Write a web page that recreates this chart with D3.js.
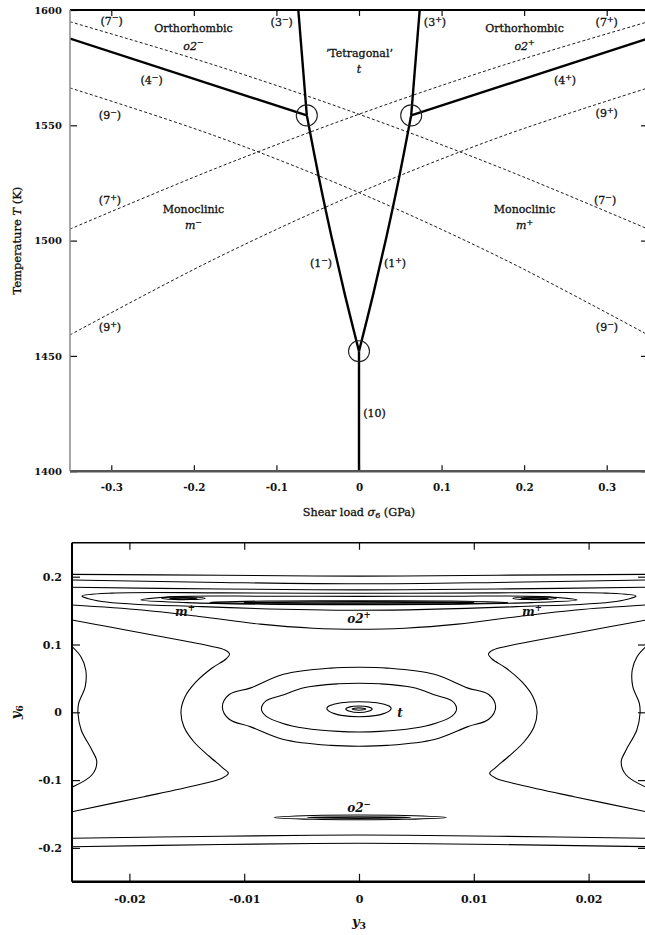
<!DOCTYPE html>
<html><head><meta charset="utf-8">
<script src="https://cdn.jsdelivr.net/npm/d3@7"></script>
<style>body{margin:0;background:#fff}svg{display:block}</style>
</head><body>
<svg id="c" width="645" height="935"></svg>
<script>
// ---------- tick values ----------
const sigmaTicks = [-0.3,-0.2,-0.1,0,0.1,0.2,0.3];
const tempTicks = [1400,1450,1500,1550,1600];
const y3Ticks = [-0.02,-0.01,0,0.01,0.02];
const y6Ticks = [-0.2,-0.1,0,0.1,0.2];

// ---------- top panel: phase boundaries [sigma6 (GPa), T (K)] ----------
const b10 = [[0,1400],[0,1452]];
const b1m = [[0,1452],[-0.0174,1477],[-0.0335,1502],[-0.0484,1527],[-0.0632,1554.3]];
const b1p = [[0,1452],[0.0174,1477],[0.0335,1502],[0.0484,1527],[0.0632,1554.3]];
const b3m = [[-0.0632,1554.3],[-0.0735,1600]];
const b3p = [[0.0632,1554.3],[0.0735,1600]];
const b4m = [[-0.35,1587.6],[-0.0632,1554.3]];
const b4p = [[0.0632,1554.3],[0.35,1587.6]];
const d7m = [[-0.35,1594.9],[-0.175,1576.1],[0,1554.8],[0.175,1531.1],[0.35,1505.0]];
const d7p = [[-0.35,1505.0],[-0.175,1531.1],[0,1554.8],[0.175,1576.1],[0.35,1594.9]];
const d9m = [[-0.35,1566.2],[-0.175,1545.5],[0,1520.8],[0.175,1492.0],[0.35,1459.1]];
const d9p = [[-0.35,1459.1],[-0.175,1492.0],[0,1520.8],[0.175,1545.5],[0.35,1566.2]];
const nodes = [[-0.0632,1554.3],[0.0632,1554.3],[0,1452]];

// labels: parts, sigma, T (centre)
const topLabels = [
 [[["(7",""],["−","sup"],[")",""]], -0.2995, 1595.4],
 [[["(3",""],["−","sup"],[")",""]], -0.0936, 1594.9],
 [[["(3",""],["+","sup"],[")",""]], 0.0920, 1594.9],
 [[["(7",""],["+","sup"],[")",""]], 0.3000, 1594.9],
 [[["Orthorhombic",""]], -0.2005, 1592.1],
 [[["o2","i"],["−","sup"]], -0.2005, 1584.6],
 [[["Orthorhombic",""]], 0.2005, 1592.1],
 [[["o2","i"],["+","sup"]], 0.2005, 1584.6],
 [[["’Tetragonal’",""]], 0.0005, 1581.2],
 [[["t","i"]], 0.0, 1574.3],
 [[["(4",""],["−","sup"],[")",""]], -0.2511, 1569.6],
 [[["(4",""],["+","sup"],[")",""]], 0.2495, 1569.6],
 [[["(9",""],["−","sup"],[")",""]], -0.3016, 1554.5],
 [[["(9",""],["+","sup"],[")",""]], 0.3000, 1555.2],
 [[["(7",""],["+","sup"],[")",""]], -0.3016, 1517.6],
 [[["(7",""],["−","sup"],[")",""]], 0.2980, 1517.6],
 [[["Monoclinic",""]], -0.2005, 1513.7],
 [[["m","i"],["−","sup"]], -0.2005, 1506.6],
 [[["Monoclinic",""]], 0.2005, 1513.7],
 [[["m","i"],["+","sup"]], 0.2005, 1506.6],
 [[["(1",""],["−","sup"],[")",""]], -0.0460, 1490.2],
 [[["(1",""],["+","sup"],[")",""]], 0.0436, 1490.2],
 [[["(9",""],["+","sup"],[")",""]], -0.3016, 1462.5],
 [[["(9",""],["−","sup"],[")",""]], 0.3003, 1462.5],
 [[["(10)",""]], 0.0188, 1425.1]
];

// ---------- bottom panel: contour lines [y3, y6] ----------
const cL1 = [[-0.025,0.2035],[-0.012,0.2022],[0,0.2008],[0.012,0.2022],[0.025,0.2035]];
const cL2 = [[-0.025,0.1951],[-0.012,0.1915],[0,0.1895],[0.012,0.1915],[0.025,0.1951]];
const cC  = [[-0.025,0.1844],[-0.012,0.1818],[0,0.1805],[0.012,0.1818],[0.025,0.1844]];
const cD  = [[-0.02413,0.1715],[-0.0215,0.1758],[-0.012,0.1762],[0,0.1755],[0.012,0.1762],[0.0215,0.1758],[0.02413,0.1715],[0.0224,0.1635],[0.0137,0.1558],[0,0.1505],[-0.0137,0.1558],[-0.0224,0.1635]];
const cM  = [[-0.019,0.1656],[-0.016,0.1708],[-0.008,0.1712],[0,0.171],[0.008,0.1712],[0.016,0.1708],[0.019,0.1656],[0.015,0.1618],[0.007,0.1592],[0,0.1588],[-0.007,0.1592],[-0.015,0.1618]];
const cMpL1 = [[-0.0172,0.1683],[-0.0160,0.1703],[-0.0146,0.1700],[-0.0134,0.1680],[-0.0147,0.1663],[-0.0161,0.1665]];
const cMpL2 = [[-0.0165,0.1683],[-0.0153,0.1693],[-0.0141,0.1682],[-0.0153,0.1673]];
const cMpR1 = [[0.0172,0.1683],[0.0160,0.1703],[0.0146,0.1700],[0.0134,0.1680],[0.0147,0.1663],[0.0161,0.1665]];
const cMpR2 = [[0.0165,0.1683],[0.0153,0.1693],[0.0141,0.1682],[0.0153,0.1673]];
const cO2p1 = [[-0.0130,0.1620],[-0.008,0.1642],[0,0.1645],[0.008,0.1642],[0.0130,0.1620],[0.008,0.1602],[0,0.1598],[-0.008,0.1602]];
const cO2p2 = [[-0.010,0.1621],[0,0.1632],[0.010,0.1621],[0,0.1610]];
const cE  = [[-0.025,0.1583],[-0.0189,0.1509],[-0.01375,0.141],[-0.0086,0.130],[-0.004,0.124],[0,0.1225],[0.004,0.124],[0.0086,0.130],[0.01375,0.141],[0.0189,0.1509],[0.025,0.1583]];
const cHL = [[-0.0250,0.1361],[-0.02169,0.1258],[-0.01821,0.1147],[-0.01516,0.1052],[-0.01298,0.0978],[-0.01167,0.0919],[-0.01128,0.0860],[-0.01159,0.0786],[-0.01280,0.0653],[-0.01420,0.0447],[-0.01516,0.0226],[-0.01551,0.0004],[-0.01524,-0.0217],[-0.01437,-0.0438],[-0.01307,-0.0645],[-0.01185,-0.0822],[-0.01138,-0.0900],[-0.01193,-0.0973],[-0.01407,-0.1072],[-0.01873,-0.1245],[-0.0250,-0.1466]];
const cHR = [[0.0250,0.1361],[0.02169,0.1258],[0.01821,0.1147],[0.01516,0.1052],[0.01298,0.0978],[0.01167,0.0919],[0.01128,0.0860],[0.01159,0.0786],[0.01280,0.0653],[0.01420,0.0447],[0.01516,0.0226],[0.01551,0.0004],[0.01524,-0.0217],[0.01437,-0.0438],[0.01307,-0.0645],[0.01185,-0.0822],[0.01138,-0.0900],[0.01193,-0.0973],[0.01407,-0.1072],[0.01873,-0.1245],[0.0250,-0.1466]];
const cWL = [[-0.0250,0.0970],[-0.02422,0.0820],[-0.0238,0.0624],[-0.02385,0.0378],[-0.02442,0.0133],[-0.02448,-0.0015],[-0.0242,-0.0261],[-0.02327,-0.0556],[-0.02284,-0.0729],[-0.02327,-0.0925],[-0.0250,-0.1105]];
const cWR = [[0.0250,0.0970],[0.02422,0.0820],[0.0238,0.0624],[0.02385,0.0378],[0.02442,0.0133],[0.02448,-0.0015],[0.0242,-0.0261],[0.02327,-0.0556],[0.02284,-0.0729],[0.02327,-0.0925],[0.0250,-0.1105]];
const cT1 = [[-0.0119,0.0080],[-0.0113,0.0262],[-0.00943,0.0360],[-0.00657,0.0560],[-0.00245,0.0652],[0,0.0664],[0.00245,0.0652],[0.00657,0.0560],[0.00943,0.0360],[0.0113,0.0262],[0.0119,0.0080],[0.0113,-0.0102],[0.00943,-0.0215],[0.00657,-0.0400],[0.00245,-0.0488],[0,-0.0500],[-0.00245,-0.0488],[-0.00657,-0.0400],[-0.00943,-0.0215],[-0.0113,-0.0102]];
const cT2 = [[-0.0085,0.0050],[-0.0081,0.0168],[-0.0067,0.0252],[-0.0047,0.0365],[-0.0018,0.0420],[0,0.0428],[0.0018,0.0420],[0.0047,0.0365],[0.0067,0.0252],[0.0081,0.0168],[0.0085,0.0050],[0.0081,-0.0056],[0.0067,-0.0160],[0.0047,-0.0235],[0.0018,-0.0282],[0,-0.0290],[-0.0018,-0.0282],[-0.0047,-0.0235],[-0.0067,-0.0160],[-0.0081,-0.0056]];
const cT3 = [[-0.0028,0.0059],[-0.00266,0.0089],[-0.0022,0.0118],[-0.00155,0.0140],[0,0.0156],[0.00155,0.0140],[0.0022,0.0118],[0.00266,0.0089],[0.0028,0.0059],[0.00266,0.0020],[0.0022,-0.0016],[0.00155,-0.0045],[0,-0.0065],[-0.00155,-0.0045],[-0.0022,-0.0016],[-0.00266,0.0020]];
const cT4 = [[-0.00115,0.0049],[-0.0008,0.0080],[0,0.0093],[0.0008,0.0080],[0.00115,0.0049],[0.0008,0.0014],[0,-0.0004],[-0.0008,0.0014]];
const cT5 = [[-0.0006,0.0048],[0,0.0066],[0.0006,0.0048],[0,0.0031]];
const cO2m1 = [[-0.0074,-0.1550],[-0.004,-0.1522],[0,-0.1515],[0.004,-0.1522],[0.0076,-0.1550],[0.004,-0.1578],[0,-0.1585],[-0.004,-0.1578]];
const cO2m2 = [[-0.0045,-0.1553],[0,-0.1542],[0.0045,-0.1553],[0,-0.1564]];
const cB1 = [[-0.025,-0.1858],[-0.012,-0.1828],[0,-0.1810],[0.012,-0.1828],[0.025,-0.1858]];
const cB2 = [[-0.025,-0.1982],[-0.012,-0.1950],[0,-0.1932],[0.012,-0.1950],[0.025,-0.1982]];
const openContours = [cL1,cL2,cC,cE,cHL,cHR,cWL,cWR,cB1,cB2];
const closedContours = [cD,cM,cMpL1,cMpL2,cMpR1,cMpR2,cO2p1,cO2p2,cT1,cT2,cT3,cT4,cT5,cO2m1,cO2m2];

const botLabels = [
 [[["m","i"],["+","sup"]], -0.01516, 0.1485],
 [[["m","i"],["+","sup"]], 0.01507, 0.1485],
 [[["o2","i"],["+","sup"]], 0.0, 0.1386],
 [[["t","i"]], 0.00357, -0.0006],
 [[["o2","i"],["−","sup"]], 0.0, -0.1400]
];

// ---------- drawing ----------
const svg = d3.select("#c");
const FONT = "DejaVu Serif";

function rich(parent, x, y, parts, size, opts={}) {
  const t = parent.append("text").attr("x",x).attr("y",y)
    .attr("text-anchor", opts.anchor || "middle")
    .attr("font-family", FONT).attr("font-size", size).attr("fill","#111");
  if (opts.weight) t.attr("font-weight", opts.weight);
  if (opts.transform) t.attr("transform", opts.transform);
  if (opts.thick) t.attr("stroke","#111").attr("stroke-width",opts.thick);
  let shift = 0;
  parts.forEach(([str, st]) => {
    const tok = st.split(" ");
    const ts = t.append("tspan").text(str);
    let target = 0;
    if (tok.includes("sup")) { target = -0.38*size; ts.attr("font-size", size*0.72); }
    if (tok.includes("sub")) { target = 0.22*size; ts.attr("font-size", size*0.72); }
    if (tok.includes("i")) ts.attr("font-style","italic");
    if (target !== shift) { ts.attr("dy", target - shift); shift = target; }
  });
  return t;
}

function styleAxis(g, labels, size) {
  g.select(".domain").remove();
  g.selectAll(".tick line").attr("stroke","#111").attr("stroke-width",1.2);
  g.selectAll(".tick text").attr("font-family",FONT).attr("font-weight","bold")
    .attr("font-size",size || 10).attr("fill","#111");
  if (!labels) g.selectAll(".tick text").remove();
}

// ===== TOP PANEL =====
const xTop = d3.scaleLinear([-0.35,0.35],[70,648]);
const yTop = d3.scaleLinear([1400,1600],[471.2,10]);
const gT = svg.append("g");
svg.append("clipPath").attr("id","clipT").append("rect")
  .attr("x",xTop(-0.35)).attr("y",yTop(1600)).attr("width",xTop(0.35)-xTop(-0.35)).attr("height",yTop(1400)-yTop(1600));
const lineT = d3.line().x(d=>xTop(d[0])).y(d=>yTop(d[1]));
const lineTc = d3.line().x(d=>xTop(d[0])).y(d=>yTop(d[1])).curve(d3.curveCatmullRom);
const plotT = gT.append("g").attr("clip-path","url(#clipT)");

[d7m,d7p,d9m,d9p].forEach(d => plotT.append("path").attr("d",lineTc(d))
  .attr("fill","none").attr("stroke","#111").attr("stroke-width",0.95).attr("stroke-dasharray","3,2.2"));
[b10,b3m,b3p,b4m,b4p].forEach(d => plotT.append("path").attr("d",lineT(d))
  .attr("fill","none").attr("stroke","#000").attr("stroke-width",2.4));
[b1m,b1p].forEach(d => plotT.append("path").attr("d",lineTc(d))
  .attr("fill","none").attr("stroke","#000").attr("stroke-width",2.4));
plotT.selectAll("circle.node").data(nodes).join("circle").attr("class","node")
  .attr("cx",d=>xTop(d[0])).attr("cy",d=>yTop(d[1])).attr("r",10.5)
  .attr("fill","none").attr("stroke","#222").attr("stroke-width",1.1);

// axes top
gT.append("g").attr("transform",`translate(0,${yTop(1400)})`)
  .call(d3.axisBottom(xTop).tickValues(sigmaTicks).tickFormat(d=>String(d)).tickSize(-6).tickPadding(12))
  .call(g=>styleAxis(g,true,10.3));
gT.append("g").attr("transform",`translate(0,${yTop(1600)})`)
  .call(d3.axisTop(xTop).tickValues(sigmaTicks).tickSize(-6))
  .call(g=>styleAxis(g,false));
gT.append("g").attr("transform",`translate(${xTop(-0.35)},0)`)
  .call(d3.axisLeft(yTop).tickValues(tempTicks).tickFormat(d=>String(d)).tickSize(-7).tickPadding(8))
  .call(g=>styleAxis(g,true,10));
gT.append("g").attr("transform",`translate(${xTop(0.35)},0)`)
  .call(d3.axisRight(yTop).tickValues(tempTicks).tickSize(-7))
  .call(g=>styleAxis(g,false));
// spines
gT.append("line").attr("x1",xTop(-0.35)).attr("x2",xTop(0.35)).attr("y1",yTop(1600)).attr("y2",yTop(1600)).attr("stroke","#000").attr("stroke-width",2);
gT.append("line").attr("x1",xTop(-0.35)).attr("x2",xTop(0.35)).attr("y1",yTop(1400)).attr("y2",yTop(1400)).attr("stroke","#555").attr("stroke-width",2.6);
gT.append("line").attr("x1",xTop(-0.35)).attr("x2",xTop(-0.35)).attr("y1",yTop(1600)).attr("y2",yTop(1400)).attr("stroke","#888").attr("stroke-width",1.5);

topLabels.forEach(([parts,s,T]) => rich(gT, xTop(s), yTop(T)+4, parts, 11, {thick:0.3}));
rich(gT, xTop(0), 516, [["Shear load ",""],["σ","i"],["6","sub"],[" (GPa)",""]], 11.2, {thick:0.3});
rich(gT, 0, 0, [["Temperature ",""],["T","i"],[" (K)",""]], 11.5, {thick:0.3, transform:`translate(21,${yTop(1500)}) rotate(-90)`});

// ===== BOTTOM PANEL =====
const xBot = d3.scaleLinear([-0.025,0.025],[72,646]);
const yBot = d3.scaleLinear([-0.25,0.25],[881.8,542.8]);
const gB = svg.append("g");
svg.append("clipPath").attr("id","clipB").append("rect")
  .attr("x",xBot(-0.025)).attr("y",yBot(0.25)).attr("width",xBot(0.025)-xBot(-0.025)).attr("height",yBot(-0.25)-yBot(0.25));
const plotB = gB.append("g").attr("clip-path","url(#clipB)");
const lineBo = d3.line().x(d=>xBot(d[0])).y(d=>yBot(d[1])).curve(d3.curveCatmullRom);
const lineBc = d3.line().x(d=>xBot(d[0])).y(d=>yBot(d[1])).curve(d3.curveCatmullRomClosed);
openContours.forEach(d => plotB.append("path").attr("d",lineBo(d))
  .attr("fill","none").attr("stroke","#000").attr("stroke-width",1.1));
closedContours.forEach(d => plotB.append("path").attr("d",lineBc(d))
  .attr("fill","none").attr("stroke","#000").attr("stroke-width",1.1));

gB.append("g").attr("transform",`translate(0,${yBot(-0.25)})`)
  .call(d3.axisBottom(xBot).tickValues(y3Ticks).tickFormat(d=>String(d)).tickSize(-8).tickPadding(13))
  .call(g=>styleAxis(g,true,11));
gB.append("g").attr("transform",`translate(0,${yBot(0.25)})`)
  .call(d3.axisTop(xBot).tickValues(y3Ticks).tickSize(-7))
  .call(g=>styleAxis(g,false));
gB.append("g").attr("transform",`translate(${xBot(-0.025)},0)`)
  .call(d3.axisLeft(yBot).tickValues(y6Ticks).tickFormat(d=>String(d)).tickSize(-8).tickPadding(10))
  .call(g=>styleAxis(g,true,11));
gB.append("g").attr("transform",`translate(${xBot(0.025)},0)`)
  .call(d3.axisRight(yBot).tickValues(y6Ticks).tickSize(-8))
  .call(g=>styleAxis(g,false));
gB.append("line").attr("x1",xBot(-0.025)).attr("x2",xBot(0.025)).attr("y1",yBot(0.25)).attr("y2",yBot(0.25)).attr("stroke","#000").attr("stroke-width",1.6);
gB.append("line").attr("x1",xBot(-0.025)).attr("x2",xBot(0.025)).attr("y1",yBot(-0.25)).attr("y2",yBot(-0.25)).attr("stroke","#000").attr("stroke-width",2.6);
gB.append("line").attr("x1",xBot(-0.025)).attr("x2",xBot(-0.025)).attr("y1",yBot(0.25)).attr("y2",yBot(-0.25)).attr("stroke","#000").attr("stroke-width",2);

botLabels.forEach(([parts,a,b]) => rich(gB, xBot(a), yBot(b)+4.3, parts, 12, {weight:"bold"}));
rich(gB, xBot(0), 926, [["y","i"],["3","sub"]], 13, {weight:"bold"});
rich(gB, 0, 0, [["y","i"],["6","sub"]], 13, {weight:"bold", transform:`translate(20,${yBot(0)}) rotate(-90)`});
</script>
</body></html>
